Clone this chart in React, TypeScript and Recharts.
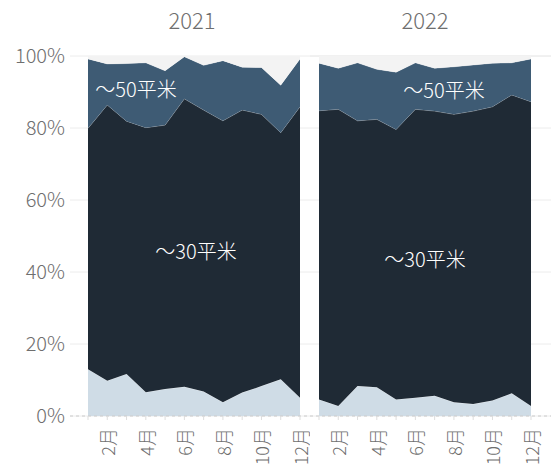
import { AreaChart, Area, XAxis, YAxis, CartesianGrid } from "recharts";

const months = [1, 2, 3, 4, 5, 6, 7, 8, 9, 10, 11, 12];
const yTicks = [0, 20, 40, 60, 80, 100];

// share of each size band per month (%)
const small2021 = [13.0, 9.8, 11.7, 6.6, 7.5, 8.1, 6.8, 3.8, 6.5, 8.3, 10.2, 5.1];
const upTo30_2021 = [66.9, 76.6, 70.2, 73.5, 73.3, 80.0, 78.2, 78.2, 78.5, 75.5, 68.5, 80.8];
const upTo50_2021 = [19.3, 11.4, 16.0, 18.0, 15.1, 11.7, 12.4, 16.7, 11.9, 13.0, 13.2, 13.3];
const over50_2021 = [0.8, 2.2, 2.1, 1.9, 4.1, 0.2, 2.6, 1.3, 3.1, 3.2, 8.1, 0.8];

const small2022 = [4.6, 2.8, 8.3, 8.0, 4.6, 5.1, 5.6, 3.8, 3.3, 4.3, 6.3, 2.8];
const upTo30_2022 = [80.2, 82.4, 73.7, 74.4, 75.0, 80.1, 79.1, 80.0, 81.4, 81.6, 82.9, 84.5];
const upTo50_2022 = [13.2, 11.4, 16.1, 13.9, 15.9, 12.9, 11.9, 13.2, 12.8, 12.1, 8.9, 11.9];
const over50_2022 = [2.0, 3.4, 1.9, 3.7, 4.5, 1.9, 3.4, 3.0, 2.5, 2.0, 1.9, 0.8];

const build = (a: number[], b: number[], c: number[], d: number[]) =>
  months.map((m, i) => ({ month: m, small: a[i], upTo30: b[i], upTo50: c[i], over50: d[i] }));

const data2021 = build(small2021, upTo30_2021, upTo50_2021, over50_2021);
const data2022 = build(small2022, upTo30_2022, upTo50_2022, over50_2022);

const FONT = "'Noto Sans CJK JP', 'Noto Sans', sans-serif";
const TEXT = "#6e6e6e";

const MonthTick = (props: any) => {
  const { x, y, payload } = props;
  const label = payload.value % 2 === 0 ? `${payload.value}月` : "";
  return (
    <g transform={`translate(${x},${y + 6}) rotate(-90)`}>
      <text textAnchor="end" dominantBaseline="central" fill={TEXT} fontSize={18} fontWeight={300} fontFamily={FONT}>
        {label}
      </text>
    </g>
  );
};

const layers = (
  <>
    <Area type="linear" dataKey="small" stackId="a" fill="#cfdce6" fillOpacity={1} stroke="#ffffff" strokeOpacity={0.4} strokeWidth={1} isAnimationActive={false} />
    <Area type="linear" dataKey="upTo30" stackId="a" fill="#1f2a35" fillOpacity={1} stroke="#ffffff" strokeOpacity={0.3} strokeWidth={1} isAnimationActive={false} />
    <Area type="linear" dataKey="upTo50" stackId="a" fill="#3e5b74" fillOpacity={1} stroke="#ffffff" strokeOpacity={0.3} strokeWidth={1} isAnimationActive={false} />
    <Area type="linear" dataKey="over50" stackId="a" fill="#f3f3f3" fillOpacity={1} stroke="none" isAnimationActive={false} />
  </>
);

function Panel({ data, showY, width, padding }: { data: any[]; showY: boolean; width: number; padding: { left: number; right: number } }) {
  return (
    <AreaChart width={width} height={472} data={data} margin={{ top: 56, right: 0, bottom: 0, left: 0 }}>
      <CartesianGrid vertical={false} stroke="#ececec" />
      <XAxis
        dataKey="month"
        type="number"
        domain={[1, 12]}
        ticks={months}
        padding={padding}
        height={56}
        tickSize={4}
        interval={0}
        axisLine={{ stroke: "#cccccc", strokeDasharray: "3 3" }}
        tickLine={{ stroke: "#dddddd" }}
        tick={<MonthTick />}
      />
      <YAxis
        hide={!showY}
        width={70}
        domain={[0, 100]}
        ticks={yTicks}
        tickFormatter={(v) => `${v}%`}
        axisLine={false}
        tickLine={false}
        tickSize={3}
        tick={{ fill: TEXT, fontSize: 20, fontWeight: 300, fontFamily: FONT }}
      />
      {layers}
    </AreaChart>
  );
}

const label = (text: string, x: number, y: number) => (
  <div
    style={{
      position: "absolute",
      left: x,
      top: y,
      transform: "translate(-50%, -50%)",
      color: "#ffffff",
      fontSize: 20,
      fontWeight: 300,
      fontFamily: FONT,
      whiteSpace: "nowrap",
      pointerEvents: "none",
    }}
  >
    {text}
  </div>
);

const title = (text: string, x: number) => (
  <div
    style={{
      position: "absolute",
      left: x,
      top: 19,
      transform: "translate(-50%, -50%)",
      color: TEXT,
      fontSize: 22,
      fontWeight: 300,
      fontFamily: FONT,
    }}
  >
    {text}
  </div>
);

export default function App() {
  return (
    <div style={{ position: "absolute", left: 0, top: 0, width: 551, height: 472, background: "#fff", overflow: "hidden" }}>
      <div style={{ position: "absolute", left: 0, top: 0 }}>
        <Panel data={data2021} showY width={310} padding={{ left: 18, right: 10 }} />
      </div>
      <div style={{ position: "absolute", left: 310, top: 0 }}>
        <Panel data={data2022} showY={false} width={241} padding={{ left: 9, right: 20 }} />
      </div>
      {title("2021", 192)}
      {title("2022", 425)}
      {label("～50平米", 136, 88)}
      {label("～50平米", 444, 89)}
      {label("～30平米", 196, 250)}
      {label("～30平米", 425, 258)}
    </div>
  );
}
